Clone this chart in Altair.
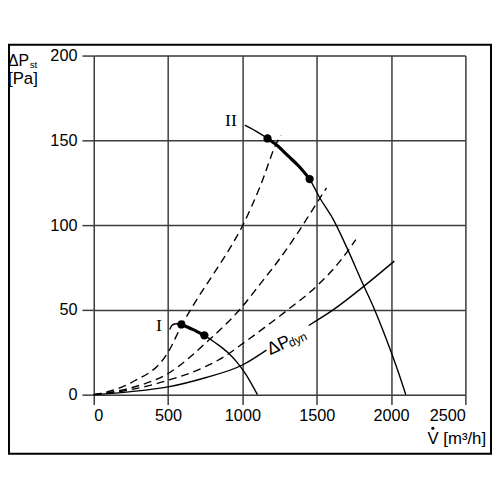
import altair as alt
import pandas as pd

# ---- data ----
x_ticks = [0, 500, 1000, 1500, 2000, 2500]
y_ticks = [0, 50, 100, 150, 200]

# fan curve I
fan1_x = [511, 525, 544, 565, 589, 665, 744, 820, 900, 960, 1021, 1060, 1101]
fan1_y = [38.4, 40.8, 41.7, 41.8, 41.4, 38.5, 35.0, 30.5, 25.0, 19.5, 12.2, 6.5, 0]
fan1_op = [589, 744]          # operating-range end points (dots)

# fan curve II
fan2_x = [1016, 1088, 1169, 1240, 1304, 1380, 1452, 1521, 1610, 1708, 1807, 1890, 2000, 2048, 2099]
fan2_y = [159, 155.6, 151.1, 146.5, 141.1, 134.7, 127.2, 116.0, 103.5, 85.7, 66, 50, 25.3, 13.5, 0]
fan2_op = [1169, 1452]

# system curves (dashed)
sys1_x = [0, 250, 500, 589, 689, 800, 910, 1000, 1120, 1239, 1260]
sys1_y = [0, 7, 25, 40.5, 55.5, 70.5, 85.5, 99.5, 123, 150, 153]
sys2_x = [0, 250, 500, 766, 1000, 1108, 1250, 1369, 1511, 1566]
sys2_y = [0, 4, 12.5, 31.5, 52, 64, 80, 95, 114.5, 122]
sys3_x = [0, 250, 500, 750, 888, 1000, 1304, 1500, 1650, 1763]
sys3_y = [0, 3, 8.5, 16.5, 23, 30, 50, 64, 78, 91.5]

# dynamic pressure curve (two pieces, gap for its label)
dyn_a_x = [0, 250, 500, 750, 1000, 1162]
dyn_a_y = [0, 1.8, 4.6, 10, 17.5, 26.3]
dyn_b_x = [1446, 1610, 1818, 2022]
dyn_b_y = [40.8, 50, 64, 78.8]

curve_labels = ["I", "II"]
dyn_label = ["ΔP", "dyn"]
dyn_label_x = [1245, 1372]
dyn_label_y = [28.9, 32.5]


def table(xs, ys, name):
    return pd.DataFrame({"x": xs, "y": ys, "curve": name})


fan = pd.concat([table(fan1_x, fan1_y, "I"), table(fan2_x, fan2_y, "II")], ignore_index=True)
thick = pd.concat([
    table(fan1_x, fan1_y, "I").query(f"x >= {fan1_op[0]} and x <= {fan1_op[1]}"),
    table(fan2_x, fan2_y, "II").query(f"x >= {fan2_op[0]} and x <= {fan2_op[1]}"),
], ignore_index=True)
dots = pd.concat([
    table(fan1_x, fan1_y, "I").query(f"x in {fan1_op}"),
    table(fan2_x, fan2_y, "II").query(f"x in {fan2_op}"),
], ignore_index=True)
systems = pd.concat([table(sys1_x, sys1_y, "s1"), table(sys2_x, sys2_y, "s2"),
                     table(sys3_x, sys3_y, "s3")], ignore_index=True)
dyn = pd.concat([table(dyn_a_x, dyn_a_y, "a"), table(dyn_b_x, dyn_b_y, "b")], ignore_index=True)
starts = pd.DataFrame({"x": [fan1_x[0], fan2_x[0]], "y": [fan1_y[0], fan2_y[0]], "label": curve_labels})
dynlab = pd.DataFrame({"x": dyn_label_x, "y": dyn_label_y, "label": dyn_label})

GRID = "#3c3c3c"
FONT = "Liberation Sans"

sx = alt.Scale(domain=[0, 2500], nice=False, zero=False)
sy = alt.Scale(domain=[0, 200], nice=False, zero=False)
ax_x = alt.Axis(values=x_ticks, format="d", title=None, grid=True, gridColor=GRID, gridWidth=1.5,
                gridOpacity=1, domain=False, ticks=True, tickSize=10, tickColor=GRID, tickWidth=1.5,
                labelFont=FONT, labelFontSize=16.5, labelColor="black", labelPadding=3)
ax_y = alt.Axis(values=y_ticks, format="d", title=None, grid=True, gridColor=GRID, gridWidth=1.5,
                gridOpacity=1, domain=False, ticks=True, tickSize=12, tickColor=GRID, tickWidth=1.5,
                labelFont=FONT, labelFontSize=16.5, labelColor="black", labelPadding=5)
X = alt.X("x:Q", scale=sx, axis=ax_x)
Y = alt.Y("y:Q", scale=sy, axis=ax_y)

sys_layer = alt.Chart(systems).mark_line(color="black", strokeWidth=1.4, strokeDash=[8, 5],
                                         interpolate="monotone").encode(x=X, y=Y, detail="curve:N")
dyn_layer = alt.Chart(dyn).mark_line(color="black", strokeWidth=1.4,
                                     interpolate="monotone").encode(x=X, y=Y, detail="curve:N")
fan_layer = alt.Chart(fan).mark_line(color="black", strokeWidth=1.4,
                                     interpolate="monotone").encode(x=X, y=Y, detail="curve:N")
thick_layer = alt.Chart(thick).mark_line(color="black", strokeWidth=3.2,
                                         interpolate="monotone").encode(x=X, y=Y, detail="curve:N")
dot_layer = alt.Chart(dots).mark_circle(color="black", size=70, opacity=1).encode(x=X, y=Y)

roman = alt.Chart(starts).mark_text(font="Liberation Serif", fontSize=18, align="right",
                                    baseline="middle", dx=-8, dy=-4, color="black").encode(
    x=X, y=Y, text="label:N")

dyn_big = alt.Chart(dynlab.iloc[[0]]).mark_text(font=FONT, fontSize=18, align="center",
                                                baseline="middle", angle=335, color="black").encode(
    x=X, y=Y, text="label:N")
dyn_small = alt.Chart(dynlab.iloc[[1]]).mark_text(font=FONT, fontSize=12, align="center",
                                                  baseline="middle", angle=335, color="black").encode(
    x=X, y=Y, text="label:N")

one = pd.DataFrame({"k": [0]})
frame = alt.Chart(one).mark_rect(fillOpacity=0, stroke="black", strokeWidth=2).encode(
    x=alt.value(-86), x2=alt.value(403), y=alt.value(-11), y2=alt.value(404))


def label(text, x, y, size, align="left"):
    return alt.Chart(one).mark_text(font=FONT, fontSize=size, align=align, baseline="alphabetic",
                                    color="black").encode(
        x=alt.value(x), y=alt.value(y), text=alt.value(text))


y_title1 = label("ΔP", -87, 11, 16)
y_title2 = label("st", -65, 13, 10)
y_title3 = label("[Pa]", -87, 29, 17)
x_title = label("V [m³/h]", 398, 394, 17, align="right")
# dot over the V (volume flow rate symbol)
x_dot = alt.Chart(one).mark_circle(color="black", size=10, opacity=1).encode(
    x=alt.value(344), y=alt.value(378))

chart = alt.layer(
    sys_layer, dyn_layer, fan_layer, thick_layer, dot_layer, roman, dyn_big, dyn_small,
    frame, y_title1, y_title2, y_title3, x_title, x_dot,
).properties(
    width=377, height=344,
    autosize=alt.AutoSizeParams(type="none"),
    padding={"left": 87, "top": 45, "right": 27, "bottom": 62},
).configure_view(stroke=None).configure(background="white")

chart.save("out.html", embed_options={"renderer": "svg", "actions": False})
